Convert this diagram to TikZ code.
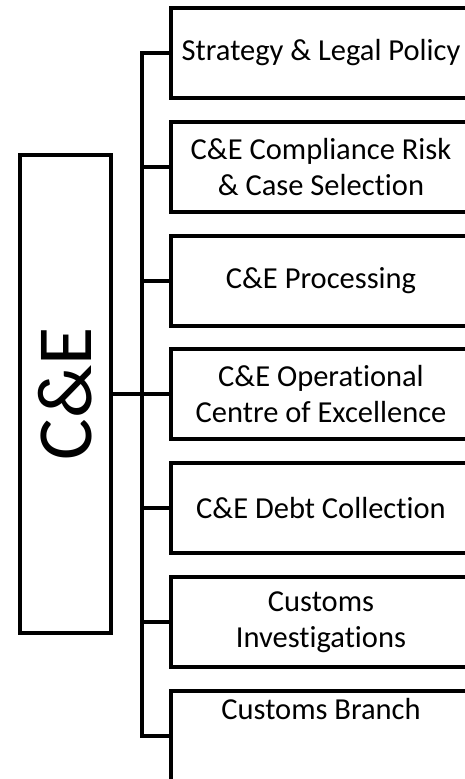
\documentclass[tikz,border=0pt]{standalone}
\usepackage{fontspec}
\setmainfont[Ligatures=NoCommon]{Carlito}
\begin{document}
\begin{tikzpicture}[x=1pt,y=-1pt,
  line width=4pt,
  unit/.style={draw, line width=4pt, minimum width=300pt, minimum height=90pt,
    inner sep=0pt, align=center, font=\fontsize{30.5}{36}\selectfont},
  wire/.style={draw, line width=4pt, line join=miter}]
\useasboundingbox (0,0) rectangle (465,779);
\clip (0,0) rectangle (465,779);

% parent unit
\node[draw, line width=4pt, minimum width=91pt, minimum height=478pt, inner sep=0pt,
  font=\fontsize{78}{84}\selectfont] (ce) at (65.5,394) {\rotatebox{90}{C\&E}};

% child units
\node[unit] (b1) at (321,53)    {Strategy \& Legal Policy};
\node[unit] (b2) at (321,166.8) {C\&E Compliance Risk\\ \& Case Selection};
\node[unit] (b3) at (321,280.6) {C\&E Processing};
\node[unit] (b4) at (321,394.4) {C\&E Operational\\ Centre of Excellence};
\node[unit] (b5) at (321,508.2) {C\&E Debt Collection};
\node[unit] (b6) at (321,622)   {Customs\\ Investigations};
\node[unit, text height=29pt, text depth=61pt] (b7) at (321,735.8) {Customs Branch};

% bus line
\coordinate (bus) at (142,0);
\draw[wire] (b1.west) -- (b1.west -| bus) -- (b7.west -| bus) -- (b7.west);
\foreach \n in {b2,b3,b4,b5,b6}
  \draw[wire] (\n.west) -- (\n.west -| bus);
\draw[wire] (ce.east) -- (ce.east -| bus);
\end{tikzpicture}
\end{document}
